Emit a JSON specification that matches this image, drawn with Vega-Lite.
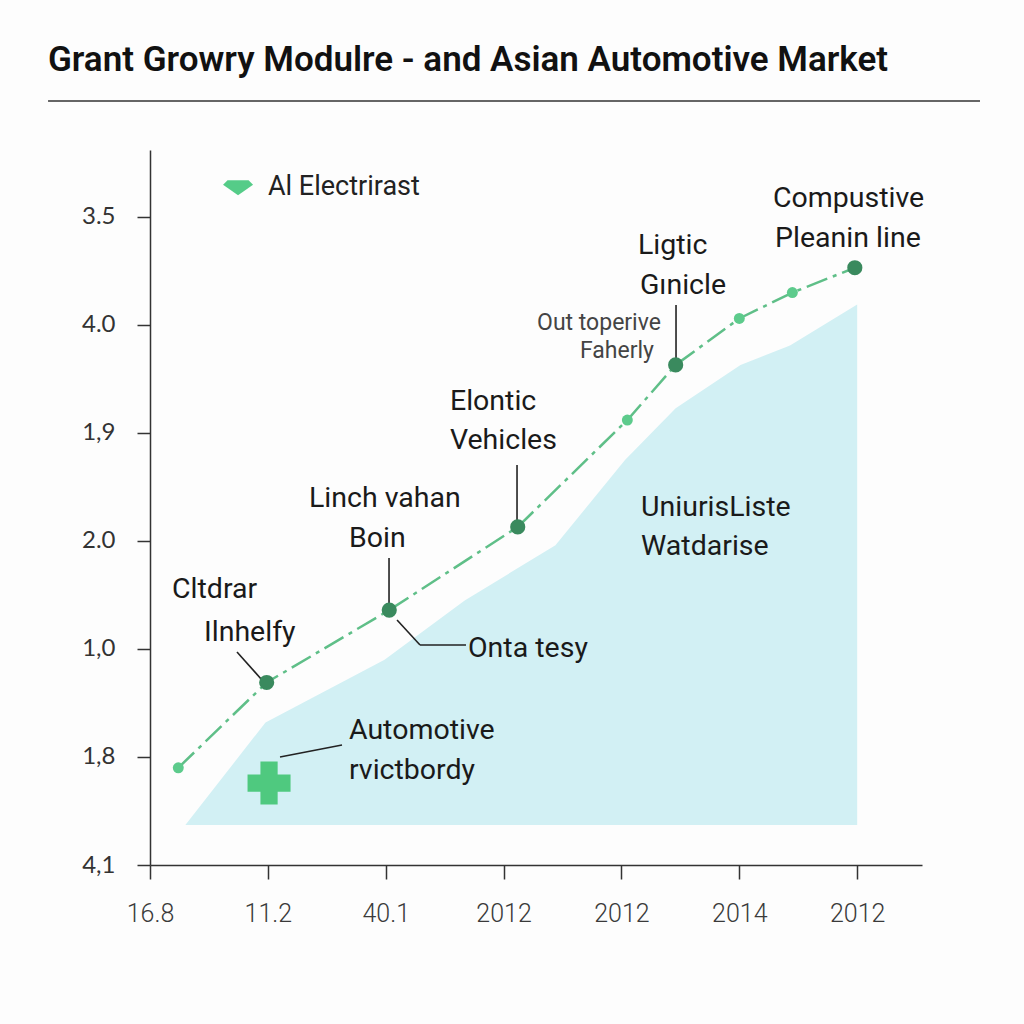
{
  "$schema": "https://vega.github.io/schema/vega-lite/v6.json",
  "autosize": "none",
  "width": 772,
  "height": 715,
  "padding": {"left": 150, "top": 150, "right": 102, "bottom": 159},
  "background": "#fdfdfd",
  "config": {"view": {"stroke": null}},
  "title": {
    "text": "Grant Growry Modulre - and Asian Automotive Market",
    "anchor": "start",
    "frame": "group",
    "dx": -102,
    "offset": 22,
    "fontSize": 35,
    "font": "Roboto",
    "fontWeight": 600,
    "color": "#111111"
  },
  "datasets": {
    "area": [
      {"x": 0.30, "y": 0.37, "base": 0.37},
      {"x": 0.98, "y": 1.32, "base": 0.37},
      {"x": 1.99, "y": 1.90, "base": 0.37},
      {"x": 2.67, "y": 2.45, "base": 0.37},
      {"x": 3.44, "y": 2.96, "base": 0.37},
      {"x": 4.03, "y": 3.75, "base": 0.37},
      {"x": 4.46, "y": 4.23, "base": 0.37},
      {"x": 5.01, "y": 4.63, "base": 0.37},
      {"x": 5.43, "y": 4.81, "base": 0.37},
      {"x": 6.00, "y": 5.19, "base": 0.37}
    ],
    "line": [
      {"x": 0.24, "y": 0.90, "kind": "minor"},
      {"x": 0.99, "y": 1.69, "kind": "major"},
      {"x": 2.03, "y": 2.36, "kind": "major"},
      {"x": 3.12, "y": 3.13, "kind": "major"},
      {"x": 4.05, "y": 4.12, "kind": "minor"},
      {"x": 4.46, "y": 4.63, "kind": "major"},
      {"x": 5.00, "y": 5.06, "kind": "minor"},
      {"x": 5.45, "y": 5.30, "kind": "minor"},
      {"x": 5.98, "y": 5.53, "kind": "major"}
    ],
    "leaders": [
      {"x": 4.463, "y": 5.185, "x2": 4.463, "y2": 4.63},
      {"x": 3.114, "y": 3.704, "x2": 3.114, "y2": 3.13},
      {"x": 2.028, "y": 2.843, "x2": 2.028, "y2": 2.38},
      {"x": 2.096, "y": 2.269, "x2": 2.291, "y2": 2.037},
      {"x": 2.291, "y": 2.037, "x2": 2.681, "y2": 2.037},
      {"x": 0.738, "y": 1.972, "x2": 0.950, "y2": 1.713},
      {"x": 1.103, "y": 1.000, "x2": 1.629, "y2": 1.111}
    ],
    "labels": [
      {"x": 5.286, "y": 6.176, "label": "Compustive"},
      {"x": 5.303, "y": 5.806, "label": "Pleanin line"},
      {"x": 4.140, "y": 5.741, "label": "Ligtic"},
      {"x": 4.157, "y": 5.370, "label": "Gınicle"},
      {"x": 2.545, "y": 4.296, "label": "Elontic"},
      {"x": 2.545, "y": 3.935, "label": "Vehicles"},
      {"x": 1.349, "y": 3.398, "label": "Linch vahan"},
      {"x": 1.688, "y": 3.028, "label": "Boin"},
      {"x": 2.698, "y": 2.009, "label": "Onta tesy"},
      {"x": 0.187, "y": 2.556, "label": "Cltdrar"},
      {"x": 0.458, "y": 2.157, "label": "Ilnhelfy"},
      {"x": 1.688, "y": 1.250, "label": "Automotive"},
      {"x": 1.688, "y": 0.880, "label": "rvictbordy"},
      {"x": 4.166, "y": 3.315, "label": "UniurisListe"},
      {"x": 4.166, "y": 2.954, "label": "Watdarise"}
    ],
    "notes": [
      {"x": 3.284, "y": 5.019, "label": "Out toperive"},
      {"x": 3.648, "y": 4.759, "label": "Faherly"}
    ],
    "legend": [
      {"x": 0.747, "y": 6.278, "tx": 1.001, "label": "Al Electrirast"}
    ],
    "cross": [
      {"x": 1.010, "y": 0.759}
    ],
    "titlerule": [
      {"x": -0.865, "x2": 7.042, "y": 7.074}
    ]
  },
  "layer": [
    {
      "data": {"name": "area"},
      "mark": {"type": "area", "color": "#d2f0f4", "opacity": 1},
      "encoding": {
        "x": {
          "field": "x", "type": "quantitative",
          "scale": {"domain": [0, 6.55], "nice": false, "zero": false},
          "axis": {
            "title": null, "values": [0, 1, 2, 3, 4, 5, 6], "grid": false,
            "labelFlush": false,
            "labelExpr": "['16.8','11.2','40.1','2012','2012','2014','2012'][datum.value]",
            "domainColor": "#333333", "domainWidth": 1.5,
            "tickColor": "#333333", "tickWidth": 1.5, "tickSize": 14,
            "labelPadding": 22, "labelFont": "Roboto", "labelFontWeight": 300,
            "labelFontSize": 25, "labelColor": "#3a3a3a"
          }
        },
        "y": {
          "field": "y", "type": "quantitative",
          "scale": {"domain": [0, 6.62], "nice": false, "zero": false},
          "axis": {
            "title": null, "values": [0, 1, 2, 3, 4, 5, 6], "grid": false,
            "labelFlush": false,
            "labelExpr": "['4,1','1,8','1,0','2.0','1,9','4.0','3.5'][datum.value]",
            "domainColor": "#333333", "domainWidth": 1.5,
            "tickColor": "#333333", "tickWidth": 1.5, "tickSize": 13,
            "labelPadding": 22, "labelFont": "Lato", "labelFontSize": 24,
            "labelColor": "#333333"
          }
        },
        "y2": {"field": "base"}
      }
    },
    {
      "data": {"name": "titlerule"},
      "mark": {"type": "rule", "color": "#333333", "strokeWidth": 1.5, "clip": false},
      "encoding": {
        "x": {"field": "x", "type": "quantitative"},
        "x2": {"field": "x2"},
        "y": {"field": "y", "type": "quantitative"}
      }
    },
    {
      "data": {"name": "line"},
      "mark": {"type": "line", "color": "#5fbf88", "strokeWidth": 2.5, "strokeDash": [22, 6, 4, 6]},
      "encoding": {
        "x": {"field": "x", "type": "quantitative"},
        "y": {"field": "y", "type": "quantitative"}
      }
    },
    {
      "data": {"name": "leaders"},
      "mark": {"type": "rule", "color": "#222222", "strokeWidth": 1.6},
      "encoding": {
        "x": {"field": "x", "type": "quantitative"},
        "y": {"field": "y", "type": "quantitative"},
        "x2": {"field": "x2"},
        "y2": {"field": "y2"}
      }
    },
    {
      "data": {"name": "line"},
      "mark": {"type": "point", "filled": true, "opacity": 1, "shape": "circle"},
      "encoding": {
        "x": {"field": "x", "type": "quantitative"},
        "y": {"field": "y", "type": "quantitative"},
        "color": {"field": "kind", "type": "nominal", "scale": {"domain": ["major", "minor"], "range": ["#3a8a5e", "#5dcb8c"]}, "legend": null},
        "size": {"field": "kind", "type": "nominal", "scale": {"domain": ["major", "minor"], "range": [230, 120]}, "legend": null}
      }
    },
    {
      "data": {"name": "cross"},
      "mark": {"type": "point", "shape": "cross", "filled": true, "opacity": 1, "color": "#4fc97f", "size": 1850},
      "encoding": {
        "x": {"field": "x", "type": "quantitative"},
        "y": {"field": "y", "type": "quantitative"}
      }
    },
    {
      "data": {"name": "legend"},
      "mark": {"type": "point", "shape": "M-0.7,-0.45L0.7,-0.45L1,-0.15L0,0.55L-1,-0.15Z", "filled": true, "opacity": 1, "color": "#55cc88", "size": 900},
      "encoding": {
        "x": {"field": "x", "type": "quantitative"},
        "y": {"field": "y", "type": "quantitative"}
      }
    },
    {
      "data": {"name": "legend"},
      "mark": {"type": "text", "align": "left", "baseline": "middle", "font": "Roboto", "fontSize": 27, "color": "#222222"},
      "encoding": {
        "x": {"field": "tx", "type": "quantitative"},
        "y": {"field": "y", "type": "quantitative"},
        "text": {"field": "label"}
      }
    },
    {
      "data": {"name": "labels"},
      "mark": {"type": "text", "align": "left", "baseline": "middle", "font": "Roboto", "fontSize": 28.5, "color": "#1a1a1a"},
      "encoding": {
        "x": {"field": "x", "type": "quantitative"},
        "y": {"field": "y", "type": "quantitative"},
        "text": {"field": "label"}
      }
    },
    {
      "data": {"name": "notes"},
      "mark": {"type": "text", "align": "left", "baseline": "middle", "font": "Roboto", "fontSize": 23, "color": "#444444"},
      "encoding": {
        "x": {"field": "x", "type": "quantitative"},
        "y": {"field": "y", "type": "quantitative"},
        "text": {"field": "label"}
      }
    }
  ]
}
